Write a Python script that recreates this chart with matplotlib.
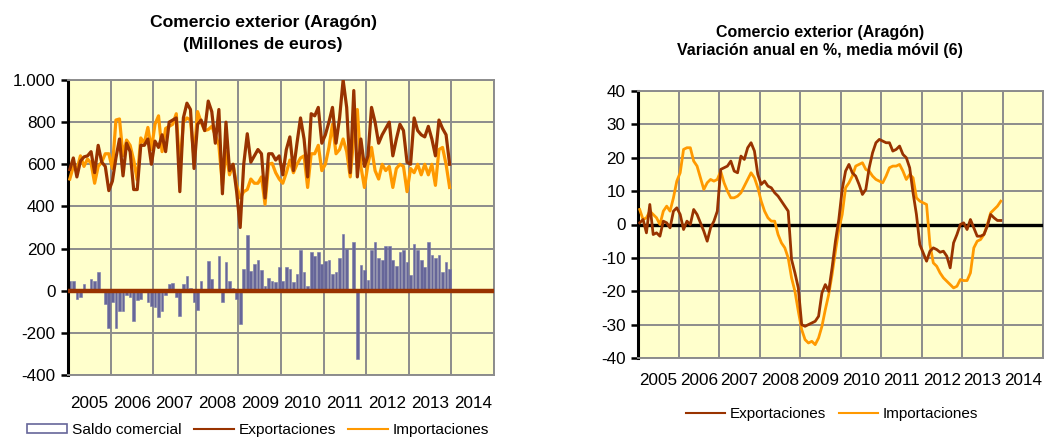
import numpy as np
import matplotlib
matplotlib.use("Agg")
import matplotlib.pyplot as plt
from matplotlib.patches import Rectangle
from matplotlib.lines import Line2D

plt.rcParams['font.family'] = ['Liberation Sans', 'DejaVu Sans']

# ---------------- data ----------------
years = ['2005', '2006', '2007', '2008', '2009', '2010', '2011', '2012', '2013', '2014']

# Left chart: monthly values, millions of euros (Jan 2005 - Dec 2013)
exportaciones = [
    575, 630, 540, 615, 635, 640, 660, 560, 690, 610, 590, 475,   # 2005
    520, 630, 720, 545, 700, 660, 480, 480, 690, 690, 720, 600,   # 2006
    710, 680, 740, 660, 800, 810, 820, 470, 820, 890, 860, 580,   # 2007
    790, 810, 760, 900, 850, 700, 860, 460, 800, 570, 600, 470,   # 2008
    300, 600, 745, 610, 640, 670, 650, 440, 650, 650, 620, 640,   # 2009
    550, 670, 730, 570, 700, 820, 720, 540, 840, 830, 870, 700,   # 2010
    740, 800, 870, 700, 820, 1000, 870, 560, 950, 540, 720, 590,  # 2011
    640, 870, 800, 700, 740, 770, 800, 640, 720, 790, 760, 610,   # 2012
    600, 820, 760, 740, 730, 780, 720, 640, 810, 770, 740, 600,   # 2013
]
importaciones = [
    530, 590, 575, 640, 590, 625, 605, 510, 590, 610, 650, 650,   # 2005
    580, 810, 815, 640, 715, 690, 620, 525, 725, 700, 775, 670,   # 2006
    790, 830, 660, 770, 780, 790, 840, 580, 800, 820, 810, 630,   # 2007
    850, 800, 760, 765, 780, 740, 690, 500, 660, 550, 600, 500,   # 2008
    440, 470, 480, 530, 510, 510, 540, 410, 600, 605, 560, 530,   # 2009
    510, 560, 620, 560, 600, 630, 640, 490, 650, 650, 690, 570,   # 2010
    600, 680, 790, 650, 670, 720, 660, 540, 730, 860, 590, 490,   # 2011
    600, 680, 570, 530, 600, 570, 590, 490, 580, 600, 590, 470,   # 2012
    580, 560, 600, 550, 600, 550, 600, 500, 670, 680, 600, 490,   # 2013
]
saldo = [
    47, 47, -38, -30, 32, 10, 55, 47, 90, 0, -62, -177,           # 2005
    -55, -177, -98, -98, -19, -32, -142, -46, -40, -5, -55, -74,  # 2006
    -77, -125, -98, -19, 32, 36, -30, -119, 32, 68, 11, -55,      # 2007
    -90, 47, 0, 142, 55, 0, 163, -54, 134, 47, 11, -40,           # 2008
    -157, 104, 266, 92, 126, 147, 100, 24, 60, 47, 40, 111,       # 2009
    47, 111, 103, 40, 81, 191, 89, 24, 183, 163, 183, 126,        # 2010
    142, 147, 81, 89, 155, 270, 198, 0, 229, -322, 123, 96,       # 2011
    52, 194, 229, 155, 147, 213, 213, 147, 119, 183, 191, 134,    # 2012
    76, 221, 191, 147, 111, 229, 171, 155, 168, 90, 134, 104,     # 2013
]
left_yticks = [-400, -200, 0, 200, 400, 600, 800, 1000]
left_yticklabels = ['-400', '-200', '0', '200', '400', '600', '800', '1.000']

# Right chart: annual % change, 6-month moving average
var_export = [
    0.5, 1.5, -2.5, 6, -3, -2.5, -3.5, 1, 0.5, -1, 4, 5,          # 2005
    3, -1.5, 1, 0, 4.5, 3, 0.5, -2, -5, -1, 1, 4,                 # 2006
    16.5, 17, 17.5, 19, 16, 15.5, 20.5, 19.5, 23, 24.5, 22, 15,   # 2007
    12, 13, 11.5, 11, 9.5, 8.5, 7, 5.5, 4, -10.5, -14.5, -19,     # 2008
    -30, -30.5, -30, -29.5, -29, -27.5, -20.5, -18, -20, -13, -5, 1.5,  # 2009
    10.5, 16, 18, 15.5, 14.5, 12, 9, 10.5, 17, 21.5, 24.5, 25.5,  # 2010
    25, 24.5, 24.5, 22, 22.5, 23.5, 21, 20, 17, 9.5, 3, -6,       # 2011
    -8.5, -11, -8, -7, -7.5, -8.3, -8, -9.5, -13, -5.5, -3, 0,    # 2012
    0.5, -1.5, 1.5, -1, -3.5, -3.5, -3, -0.5, 3, 2, 1.2, 1.2,     # 2013
]
var_import = [
    4.5, 1.5, 2, 4, 3, 2, 0, 4, 5.5, 4, 8, 13,                    # 2005
    15.5, 22.5, 23, 23, 19, 17.5, 14, 10.5, 12.5, 13.5, 13, 13.5, # 2006
    16, 12.5, 10, 8, 8, 8.5, 9.5, 11.5, 13.5, 15.5, 14, 11,       # 2007
    7, 4, 2, 1, 1, -3, -5.5, -7, -10, -16, -20, -26,              # 2008
    -31.5, -34.5, -35.5, -35, -36, -34, -30.5, -25.5, -21, -15, -8, -1.5,  # 2009
    3, 11, 12.5, 14.5, 17.5, 18, 18.5, 16.5, 16, 14.5, 13.5, 13,  # 2010
    12.5, 14.5, 17, 17.5, 17.5, 18, 16, 13.5, 15, 14, 8, 7,       # 2011
    6.5, 6, -6, -11.5, -12.5, -14.5, -16, -17, -18, -19, -18.5, -16.5,  # 2012
    -16.8, -16.8, -14.5, -7, -5, -4.5, -3, 0, 3.5, 4.5, 5.5, 7,   # 2013
]
right_yticks = [-40, -30, -20, -10, 0, 10, 20, 30, 40]

# ---------------- style ----------------
BG = '#FFFFCC'
GRID = '#8C8C8C'
BROWN = '#993300'
ORANGE = '#FF9900'
BAR = '#666699'
FS = 12.3

W, H = 1044, 437
fig = plt.figure(figsize=(W / 100, H / 100), dpi=100)


def frac_axes(x0, y0, x1, y1):
    return fig.add_axes([x0 / W, 1 - y1 / H, (x1 - x0) / W, (y1 - y0) / H])


def style_axes(ax, ylo, yhi, yticks, yticklabels, pad_x):
    ax.set_facecolor(BG)
    ax.set_xlim(0, 120)
    ax.set_ylim(ylo, yhi)
    ax.set_xticks(np.arange(0, 121, 12))
    ax.set_xticklabels([])
    ax.set_xticks(np.arange(6, 120, 12), minor=True)
    ax.set_xticklabels(years, minor=True, fontsize=FS)
    ax.tick_params(axis='x', which='both', length=0, pad=pad_x)
    ax.set_yticks(yticks)
    ax.set_yticklabels(yticklabels, fontsize=FS)
    ax.tick_params(axis='y', length=5, width=1.8, pad=4, direction='out')
    ax.grid(True, which='major', color=GRID, linewidth=1.4, zorder=0)
    ax.set_axisbelow(True)
    for s in ['top', 'right', 'bottom']:
        ax.spines[s].set_color(GRID)
        ax.spines[s].set_linewidth(1.4)
    ax.spines['left'].set_color('black')
    ax.spines['left'].set_linewidth(2.2)


x = np.arange(len(exportaciones)) + 0.5

# ---------------- left chart ----------------
ax1 = frac_axes(68, 80, 494, 375)
style_axes(ax1, -400, 1000, left_yticks, left_yticklabels, 15)
ax1.bar(x, saldo, width=0.75, color=BAR, edgecolor='#7777AA', linewidth=0.4, zorder=2)
ax1.axhline(0, color=BROWN, linewidth=3.2, zorder=3)
ax1.plot(x, importaciones, color=ORANGE, linewidth=2.3, zorder=4, solid_joinstyle='round')
ax1.plot(x, exportaciones, color=BROWN, linewidth=2.3, zorder=5, solid_joinstyle='round')

fig.text(263 / W, 1 - 22 / H, 'Comercio exterior (Aragón)', ha='center', va='center',
         fontsize=12.6, fontweight='bold')
fig.text(263 / W, 1 - 44 / H, '(Millones de euros)', ha='center', va='center',
         fontsize=12.6, fontweight='bold')

h_saldo = Rectangle((0, 0), 1, 1, facecolor='white', edgecolor=BAR, linewidth=1.2)
h_exp = Line2D([], [], color=BROWN, linewidth=1.5)
h_imp = Line2D([], [], color=ORANGE, linewidth=1.5)
fig.legend([h_saldo, h_exp, h_imp], ['Saldo comercial', 'Exportaciones', 'Importaciones'],
           loc='center', bbox_to_anchor=(258 / W, 1 - 430 / H), ncol=3, frameon=False,
           fontsize=11.1, handlelength=2.6, handleheight=0.5, handletextpad=0.3,
           columnspacing=0.8, borderaxespad=0, borderpad=0)

# ---------------- right chart ----------------
ax2 = frac_axes(638, 91, 1043, 358)
style_axes(ax2, -40, 40, right_yticks, [str(v) for v in right_yticks], 11)
ax2.axhline(0, color='black', linewidth=2.4, zorder=3)
ax2.plot(x, var_import, color=ORANGE, linewidth=2.0, zorder=4, solid_joinstyle='round')
ax2.plot(x, var_export, color=BROWN, linewidth=2.0, zorder=5, solid_joinstyle='round')

fig.text(820 / W, 1 - 32 / H, 'Comercio exterior (Aragón)', ha='center', va='center',
         fontsize=11.5, fontweight='bold')
fig.text(820 / W, 1 - 50 / H, 'Variación anual en %, media móvil (6)', ha='center',
         va='center', fontsize=11.5, fontweight='bold')

fig.legend([h_exp, h_imp], ['Exportaciones', 'Importaciones'],
           loc='center', bbox_to_anchor=(832 / W, 1 - 414 / H), ncol=2, frameon=False,
           fontsize=11, handlelength=2.6, handletextpad=0.3,
           columnspacing=0.8, borderaxespad=0, borderpad=0)

fig.savefig('out.png', dpi=100, facecolor='white')
